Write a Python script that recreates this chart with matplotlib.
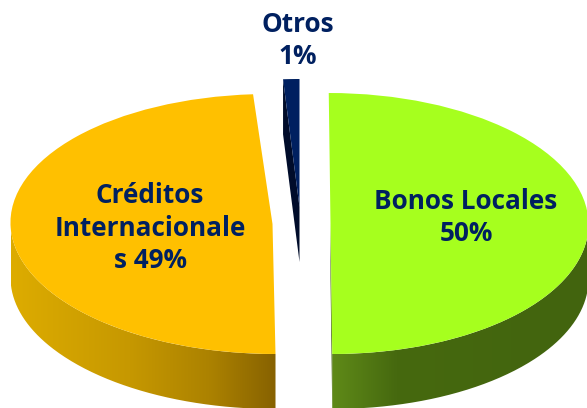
import numpy as np
import matplotlib
matplotlib.use("Agg")
import matplotlib.pyplot as plt
from matplotlib.colors import LinearSegmentedColormap
from matplotlib.patches import PathPatch, Polygon
from matplotlib.path import Path
from matplotlib.transforms import Affine2D

# data
categories = ["Bonos Locales", "Créditos Internacionales", "Otros"]
values = [50, 49, 1]
label_texts = ["Bonos Locales\n50%", "Créditos\nInternacionale\ns 49%", "Otros\n1%"]

# styles
top_colors = ["#A6FF1E", "#FFC000", "#002060"]
side_stops = [
    [(0.0, "#5F8A18"), (0.25, "#46690F"), (1.0, "#42640E")],
    [(0.0, "#DDAC00"), (0.45, "#C69800"), (0.75, "#AC8200"), (1.0, "#876200")],
    None,
]
# colour of the visible cut face, and which end of the wedge it sits on
cut_faces = [("#3E5C0C", "theta1"), None, ("#000C2A", "theta2")]
# centre x, centre y, x radius, y radius, shear of the ellipse
geom = [(330.5, 223.5, 258, 130.5, -1.75),
        (272.5, 224.0, 262, 130.0, -3.0),
        (299.5, 207.0, 262, 128.0, 0.0)]
depth = 55
label_pos = [(466, 217.5), (150, 228), (298, 40.5)]
navy = "#002060"

fig = plt.figure(figsize=(5.87, 4.08), dpi=100)
ax = fig.add_axes([0, 0, 1, 1])
wedges, _ = ax.pie(values, startangle=90, counterclock=False, colors=top_colors,
                   wedgeprops={"linewidth": 0})
ax.set_aspect("auto")
ax.set_autoscale_on(False)


def to_px(g, ux, uy):
    cx, cy, rx, ry, sh = g
    return cx + rx * np.asarray(ux) + sh * np.asarray(uy), cy - ry * np.asarray(uy)


for w, g, stops, cut in zip(wedges, geom, side_stops, cut_faces):
    cx, cy, rx, ry, sh = g
    w.set_transform(Affine2D.from_values(rx, 0, sh, -ry, cx, cy) + ax.transData)
    w.set_zorder(3)

    # rim band: the front part of the wedge's arc, with a horizontal gradient
    if stops is not None:
        th = np.radians(np.linspace(w.theta1, w.theta2, 400))
        keep = np.sin(th) <= 0.001
        x, y = to_px(g, np.cos(th[keep]), np.sin(th[keep]))
        verts = np.vstack([np.c_[x, y], np.c_[x[::-1], y[::-1] + depth], [x[0], y[0]]])
        clip = PathPatch(Path(verts), transform=ax.transData, fc="none", ec="none")
        ax.add_patch(clip)
        im = ax.imshow(np.linspace(0, 1, 256)[None, :],
                       cmap=LinearSegmentedColormap.from_list("side", stops),
                       extent=[x.min(), x.max(), 420, 0], aspect="auto",
                       interpolation="bilinear", zorder=1)
        im.set_clip_path(clip)

    # radial cut face seen from the camera
    if cut is not None:
        a = np.radians(getattr(w, cut[1]))
        ex, ey = to_px(g, np.cos(a), np.sin(a))
        ax.add_patch(Polygon([(cx, cy), (cx, cy + depth), (ex, ey + depth), (ex, ey)],
                             closed=True, fc=cut[0], ec="none", zorder=2))

for txt, (tx, ty) in zip(label_texts, label_pos):
    ax.text(tx, ty, txt, ha="center", va="center", color=navy, fontsize=18.8,
            fontweight="bold", family="Open Sans", linespacing=1.28, zorder=5)

ax.set_xlim(0, 587)
ax.set_ylim(408, 0)
ax.axis("off")
fig.savefig("out.png", dpi=100, facecolor="white")
